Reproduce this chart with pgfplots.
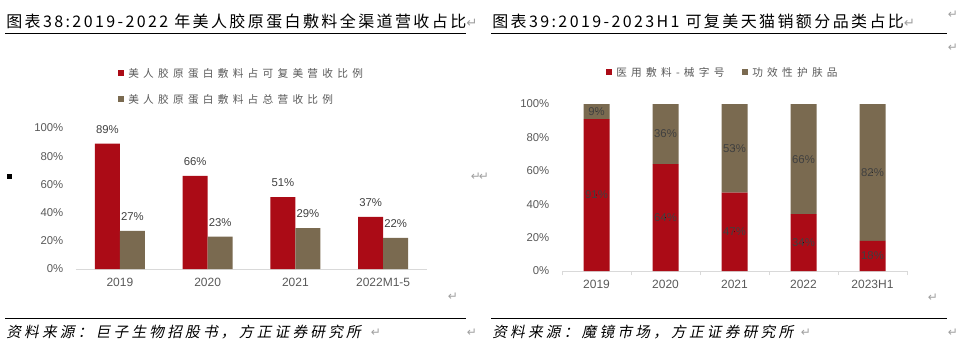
\documentclass[border=0pt]{standalone}
\usepackage{pgfplots}
\pgfplotsset{compat=1.18}
\usepackage{fontspec}
\setmainfont{Liberation Sans}
\newfontfamily\cjktitle[LetterSpace=15]{Noto Sans CJK SC}
\newfontfamily\cjkleg[LetterSpace=40]{Noto Sans CJK SC}
\newfontfamily\cjksrc[FakeSlant=0.2,LetterSpace=22]{Noto Sans CJK SC}
\newfontfamily\sym{DejaVu Sans}
\definecolor{barred}{RGB}{171,11,22}
\definecolor{barbrown}{RGB}{122,106,80}
\definecolor{txtgray}{RGB}{89,89,89}
\definecolor{lblgray}{RGB}{64,64,64}
\definecolor{axgray}{RGB}{217,217,217}
\definecolor{retgray}{RGB}{160,160,160}

\pgfplotstableread{
x red brown
0 89 27
1 66 23
2 51 29
3 37 22
}\lefttab

\pgfplotstableread{
x red brown
0 91 9
1 64 36
2 47 53
3 34 66
4 18 82
}\righttab

\begin{document}
\begin{tikzpicture}[x=0.75pt,y=0.75pt]
\path (0,0) rectangle (960,-351);

% ---------- titles and rules ----------
\node[anchor=west, inner sep=0] at (6,-21) {\fontsize{12}{14}\selectfont\cjktitle 图表38:2019-2022 年美人胶原蛋白敷料全渠道营收占比{\sym\color{retgray}\fontsize{10}{12}\selectfont ↵}};
\node[anchor=west, inner sep=0] at (492,-21) {\fontsize{12}{14}\selectfont\cjktitle 图表39:2019-2023H1 可复美天猫销额分品类占比{\sym\color{retgray}\fontsize{10}{12}\selectfont ↵}};
\draw[line width=0.75pt] (5,-33.5) -- (466,-33.5);
\draw[line width=0.75pt] (491,-33.5) -- (947,-33.5);
\draw[line width=0.75pt] (5,-318) -- (466,-318);
\draw[line width=0.75pt] (491,-318) -- (947,-318);
\node[anchor=west, inner sep=0] at (6,-332) {\fontsize{11}{13}\selectfont\cjksrc 资料来源：巨子生物招股书，方正证券研究所};
\node[anchor=west, inner sep=0] at (492,-332) {\fontsize{11}{13}\selectfont\cjksrc 资料来源：魔镜市场，方正证券研究所};

% return marks
\foreach \px/\py in {476/177, 453/297, 472/333, 953/15, 953/48, 933/298, 953/333, 484/177, 376/333, 806/333}
  \node[inner sep=0, text=retgray] at (\px,-\py) {\sym\fontsize{9}{11}\selectfont ↵};
\fill (7,-174) rectangle (12,-179);

% ---------- left legend ----------
\fill[barred] (118,-70) rectangle (124,-76);
\node[anchor=west, inner sep=0, text=txtgray] at (128,-73) {\fontsize{8}{10}\selectfont\cjkleg 美人胶原蛋白敷料占可复美营收比例};
\fill[barbrown] (118,-96) rectangle (124,-102);
\node[anchor=west, inner sep=0, text=txtgray] at (128,-99) {\fontsize{8}{10}\selectfont\cjkleg 美人胶原蛋白敷料占总营收比例};

% ---------- right legend ----------
\fill[barred] (606,-69) rectangle (612,-75);
\node[anchor=west, inner sep=0, text=txtgray] at (616,-72) {\fontsize{8}{10}\selectfont\cjkleg 医用敷料-械字号};
\fill[barbrown] (742,-69) rectangle (748,-75);
\node[anchor=west, inner sep=0, text=txtgray] at (752,-72) {\fontsize{8}{10}\selectfont\cjkleg 功效性护肤品};

% ---------- left chart ----------
\begin{axis}[
  at={(57pt,-201.75pt)}, anchor=south west,
  scale only axis, width=263.25pt, height=105.75pt,
  xmin=-0.5, xmax=3.5, ymin=0, ymax=100,
  ybar=0pt, bar width=18.75pt,
  axis x line*=bottom, axis y line*=left, separate axis lines,
  x axis line style={draw=axgray, line width=0.75pt, -},
  y axis line style={draw=none},
  major tick length=0pt,
  xtick={0,1,2,3}, xticklabels={2019,2020,2021,2022M1-5},
  ytick={0,20,40,60,80,100},
  yticklabel={\pgfmathprintnumber{\tick}\%},
  /pgf/number format/assume math mode=true,
  xticklabel style={font=\fontsize{9}{11}\selectfont, text=txtgray, yshift=-3.5pt},
  yticklabel style={font=\fontsize{8.5}{10}\selectfont, text=txtgray, xshift=-6pt},
  clip=false,
  nodes near coords={\pgfmathprintnumber{\pgfplotspointmeta}\%},
  every node near coord/.append style={font=\fontsize{8.5}{10}\selectfont, text=lblgray, yshift=4pt},
]
\addplot[fill=barred, draw=none] table[x=x, y=red] {\lefttab};
\addplot[fill=barbrown, draw=none] table[x=x, y=brown] {\lefttab};
\end{axis}

% ---------- right chart ----------
\begin{axis}[
  at={(421.5pt,-203.25pt)}, anchor=south west,
  scale only axis, width=258.75pt, height=125.25pt,
  xmin=-0.5, xmax=4.5, ymin=0, ymax=100,
  ybar stacked, bar width=19.5pt,
  axis x line*=bottom, axis y line*=left, separate axis lines,
  x axis line style={draw=axgray, line width=0.75pt, -},
  y axis line style={draw=none},
  major tick length=0pt,
  minor tick length=3pt, tick align=outside,
  minor xtick={-0.5,0.5,1.5,2.5,3.5,4.5},
  every minor tick/.append style={draw=axgray, line width=0.75pt},
  xtick={0,1,2,3,4}, xticklabels={2019,2020,2021,2022,2023H1},
  ytick={0,20,40,60,80,100},
  yticklabel={\pgfmathprintnumber{\tick}\%},
  /pgf/number format/assume math mode=true,
  xticklabel style={font=\fontsize{9}{11}\selectfont, text=txtgray, yshift=-3.5pt},
  yticklabel style={font=\fontsize{8.5}{10}\selectfont, text=txtgray, xshift=-6pt},
  clip=false,
]
\addplot[fill=barred, draw=none] table[x=x, y=red] {\righttab};
\addplot[fill=barbrown, draw=none] table[x=x, y=brown] {\righttab};
\end{axis}

% label overlay for stacked chart (segment midpoints)
\begin{axis}[
  at={(421.5pt,-203.25pt)}, anchor=south west,
  scale only axis, width=258.75pt, height=125.25pt,
  xmin=-0.5, xmax=4.5, ymin=0, ymax=100,
  hide axis, clip=false,
]
\addplot[only marks, mark=*, mark size=0.01pt, mark options={draw=none, fill=none},
  nodes near coords, point meta=explicit symbolic,
  every node near coord/.append style={anchor=center, font=\fontsize{8.5}{10}\selectfont, text=lblgray}]
  coordinates {
  (0,45.5) [91\%] (1,32) [64\%] (2,23.5) [47\%] (3,17) [34\%] (4,9) [18\%]
  (0,95.5) [9\%] (1,82) [36\%] (2,73.5) [53\%] (3,67) [66\%] (4,59) [82\%]
  };
\end{axis}
\end{tikzpicture}
\end{document}
